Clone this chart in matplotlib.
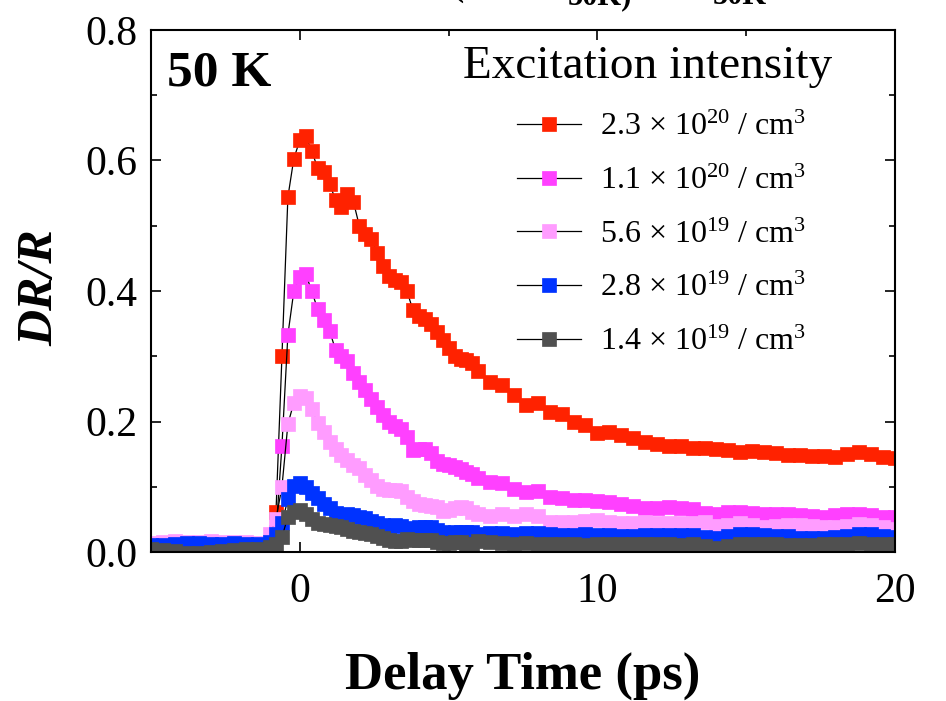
import matplotlib
matplotlib.use('Agg')
import matplotlib.pyplot as plt
from matplotlib.ticker import MultipleLocator, FormatStrFormatter

plt.rcParams['font.family'] = 'Liberation Serif'
plt.rcParams['mathtext.fontset'] = 'custom'
plt.rcParams['mathtext.rm'] = 'Liberation Serif'
plt.rcParams['mathtext.it'] = 'Liberation Serif:italic'
plt.rcParams['mathtext.bf'] = 'Liberation Serif:bold'

## delay times (ps), shared by all five traces
delay = [-5.0, -4.6, -4.2, -3.8, -3.4, -3.0, -2.6, -2.2, -1.8, -1.4,
         -1.0, -0.8, -0.6, -0.4, -0.2, 0.0, 0.2, 0.4, 0.6, 0.8,
         1.0, 1.2, 1.4, 1.6, 1.8, 2.0, 2.2, 2.4, 2.6, 2.8,
         3.0, 3.2, 3.4, 3.6, 3.8, 4.0, 4.2, 4.4, 4.6, 4.8,
         5.0, 5.2, 5.4, 5.6, 5.8, 6.0,
         6.4, 6.8, 7.2, 7.6, 8.0, 8.4, 8.8, 9.2, 9.6, 10.0,
         10.4, 10.8, 11.2, 11.6, 12.0, 12.4, 12.8, 13.2, 13.6, 14.0,
         14.4, 14.8, 15.2, 15.6, 16.0, 16.4, 16.8, 17.2, 17.6, 18.0,
         18.4, 18.8, 19.2, 19.6, 20.0]

dr_23e20 = [0.010, 0.008, 0.007, 0.006, 0.008, 0.009, 0.010, 0.011, 0.010, 0.012,
            0.015, 0.062, 0.300, 0.544, 0.603, 0.631, 0.637, 0.615, 0.588, 0.583,
            0.564, 0.540, 0.528, 0.549, 0.537, 0.500, 0.487, 0.480, 0.459, 0.439,
            0.423, 0.417, 0.414, 0.400, 0.371, 0.362, 0.357, 0.349, 0.337, 0.325,
            0.312, 0.300, 0.296, 0.294, 0.290, 0.278,
            0.260, 0.256, 0.240, 0.226, 0.228, 0.214, 0.212, 0.200, 0.194, 0.183,
            0.184, 0.180, 0.175, 0.168, 0.166, 0.163, 0.162, 0.160, 0.159, 0.158,
            0.157, 0.154, 0.155, 0.154, 0.152, 0.149, 0.148, 0.147, 0.147, 0.146,
            0.150, 0.154, 0.150, 0.146, 0.144]

dr_11e20 = [-0.002, -0.006, -0.008, -0.004, -0.005, -0.007, -0.004, -0.006, -0.003, -0.002,
            0.005, 0.030, 0.163, 0.333, 0.400, 0.422, 0.426, 0.400, 0.372, 0.355,
            0.339, 0.310, 0.300, 0.292, 0.274, 0.260, 0.248, 0.235, 0.222, 0.210,
            0.200, 0.193, 0.189, 0.177, 0.157, 0.158, 0.158, 0.151, 0.140, 0.135,
            0.133, 0.130, 0.127, 0.123, 0.119, 0.114,
            0.108, 0.105, 0.096, 0.092, 0.094, 0.084, 0.082, 0.080, 0.080, 0.078,
            0.076, 0.074, 0.070, 0.067, 0.068, 0.069, 0.068, 0.066, 0.060, 0.058,
            0.062, 0.061, 0.060, 0.059, 0.058, 0.058, 0.057, 0.055, 0.054, 0.056,
            0.058, 0.059, 0.056, 0.054, 0.053]

dr_56e19 = [0.014, 0.016, 0.017, 0.015, 0.016, 0.017, 0.015, 0.016, 0.015, 0.014,
            0.028, 0.050, 0.100, 0.196, 0.229, 0.239, 0.236, 0.219, 0.198, 0.184,
            0.169, 0.158, 0.149, 0.141, 0.133, 0.128, 0.118, 0.110, 0.101, 0.097,
            0.095, 0.095, 0.093, 0.085, 0.078, 0.074, 0.072, 0.070, 0.069, 0.063,
            0.064, 0.067, 0.069, 0.068, 0.062, 0.058,
            0.055, 0.059, 0.055, 0.058, 0.055, 0.046, 0.046, 0.046, 0.048, 0.049,
            0.046, 0.044, 0.045, 0.046, 0.045, 0.044, 0.044, 0.045, 0.046, 0.040,
            0.042, 0.044, 0.041, 0.039, 0.040, 0.041, 0.041, 0.040, 0.039, 0.039,
            0.040, 0.043, 0.042, 0.038, 0.036]

dr_28e19 = [0.010, 0.011, 0.012, 0.014, 0.014, 0.013, 0.013, 0.014, 0.013, 0.012,
            0.016, 0.028, 0.044, 0.081, 0.101, 0.106, 0.099, 0.091, 0.082, 0.073,
            0.068, 0.060, 0.057, 0.058, 0.057, 0.054, 0.052, 0.047, 0.045, 0.042,
            0.040, 0.041, 0.040, 0.037, 0.034, 0.038, 0.039, 0.038, 0.033, 0.030,
            0.029, 0.030, 0.031, 0.031, 0.030, 0.028,
            0.029, 0.029, 0.028, 0.029, 0.029, 0.027, 0.026, 0.026, 0.027, 0.026,
            0.026, 0.025, 0.025, 0.026, 0.026, 0.026, 0.026, 0.026, 0.023, 0.021,
            0.024, 0.027, 0.028, 0.026, 0.025, 0.024, 0.022, 0.021, 0.022, 0.023,
            0.024, 0.027, 0.027, 0.024, 0.023]

dr_14e19 = [0.004, 0.003, 0.001, -0.001, -0.002, 0.000, 0.002, 0.003, 0.004, 0.005,
            0.008, 0.012, 0.023, 0.054, 0.062, 0.064, 0.058, 0.050, 0.044, 0.043,
            0.041, 0.040, 0.039, 0.036, 0.032, 0.030, 0.029, 0.028, 0.024, 0.021,
            0.019, 0.017, 0.017, 0.020, 0.019, 0.018, 0.019, 0.018, 0.015, 0.014,
            0.014, 0.015, 0.016, 0.013, 0.013, 0.017,
            0.016, 0.014, 0.013, 0.014, 0.012, 0.012, 0.013, 0.012, 0.011, 0.012,
            0.013, 0.013, 0.012, 0.012, 0.013, 0.012, 0.011, 0.012, 0.009, 0.006,
            0.009, 0.012, 0.013, 0.013, 0.012, 0.011, 0.010, 0.011, 0.012, 0.012,
            0.013, 0.014, 0.013, 0.012, 0.012]

series = [dr_23e20, dr_11e20, dr_56e19, dr_28e19, dr_14e19]
labels = [r'2.3 $\times$ 10$^{20}$ / cm$^{3}$',
          r'1.1 $\times$ 10$^{20}$ / cm$^{3}$',
          r'5.6 $\times$ 10$^{19}$ / cm$^{3}$',
          r'2.8 $\times$ 10$^{19}$ / cm$^{3}$',
          r'1.4 $\times$ 10$^{19}$ / cm$^{3}$']
colors = ['#ff2200', '#ff40ff', '#ff9cff', '#0033ff', '#505050']

fig = plt.figure(figsize=(9.46, 7.01), dpi=100)
ax = fig.add_axes([151 / 946, 1 - 552 / 701, 744 / 946, 522 / 701])

for ys, lab, col in zip(series, labels, colors):
	ax.plot(delay, ys, '-', color='k', lw=0.9, marker='s', ms=9.5,
	        mfc=col, mec=col, mew=0.5, label=lab)

ax.set_xlim(-5, 20)
ax.set_ylim(0, 0.8)
ax.xaxis.set_major_locator(MultipleLocator(10))
ax.xaxis.set_minor_locator(MultipleLocator(5))
ax.yaxis.set_major_locator(MultipleLocator(0.2))
ax.yaxis.set_minor_locator(MultipleLocator(0.1))
ax.yaxis.set_major_formatter(FormatStrFormatter('%.1f'))

ax.tick_params(which='both', direction='in', top=True, right=True, width=1.2)
ax.tick_params(which='major', length=7.5, labelsize=30)
ax.tick_params(axis='x', which='major', pad=15)
ax.tick_params(axis='y', which='major', pad=10)
ax.tick_params(which='minor', length=4)
for sp in ax.spines.values():
	sp.set_linewidth(1.5)

ax.set_xlabel('Delay Time (ps)', fontsize=38, fontweight='bold', labelpad=29)
fig.text(40 / 946, 1 - 288 / 701, 'DR/R', rotation=90, fontsize=36,
         fontweight='bold', style='italic', ha='center', va='center')

ax.text((167 - 151) / 744, (552 - 85) / 522, '50 K', fontsize=37,
        fontweight='bold', transform=ax.transAxes, va='baseline', ha='left')
ax.text((463 - 151) / 744, (552 - 78) / 522, 'Excitation intensity', fontsize=34,
        transform=ax.transAxes, va='baseline', ha='left')

ax.legend(loc='upper left', bbox_to_anchor=((517 - 151) / 744, (552 - 113) / 522),
          frameon=False, fontsize=23, borderpad=0, handlelength=2.0,
          handletextpad=0.6, labelspacing=0.76, borderaxespad=0)

## clipped heading above the frame
fig.text(452 / 946, 1 + 4 / 701, '(', fontsize=24, fontweight='bold', va='baseline')
fig.text(568 / 946, 1 - 4 / 701, '50K)', fontsize=22, fontweight='bold', va='baseline')
fig.text(713 / 946, 1 - 4 / 701, '50K', fontsize=22, fontweight='bold', va='baseline')

fig.savefig('out.png', dpi=100)
